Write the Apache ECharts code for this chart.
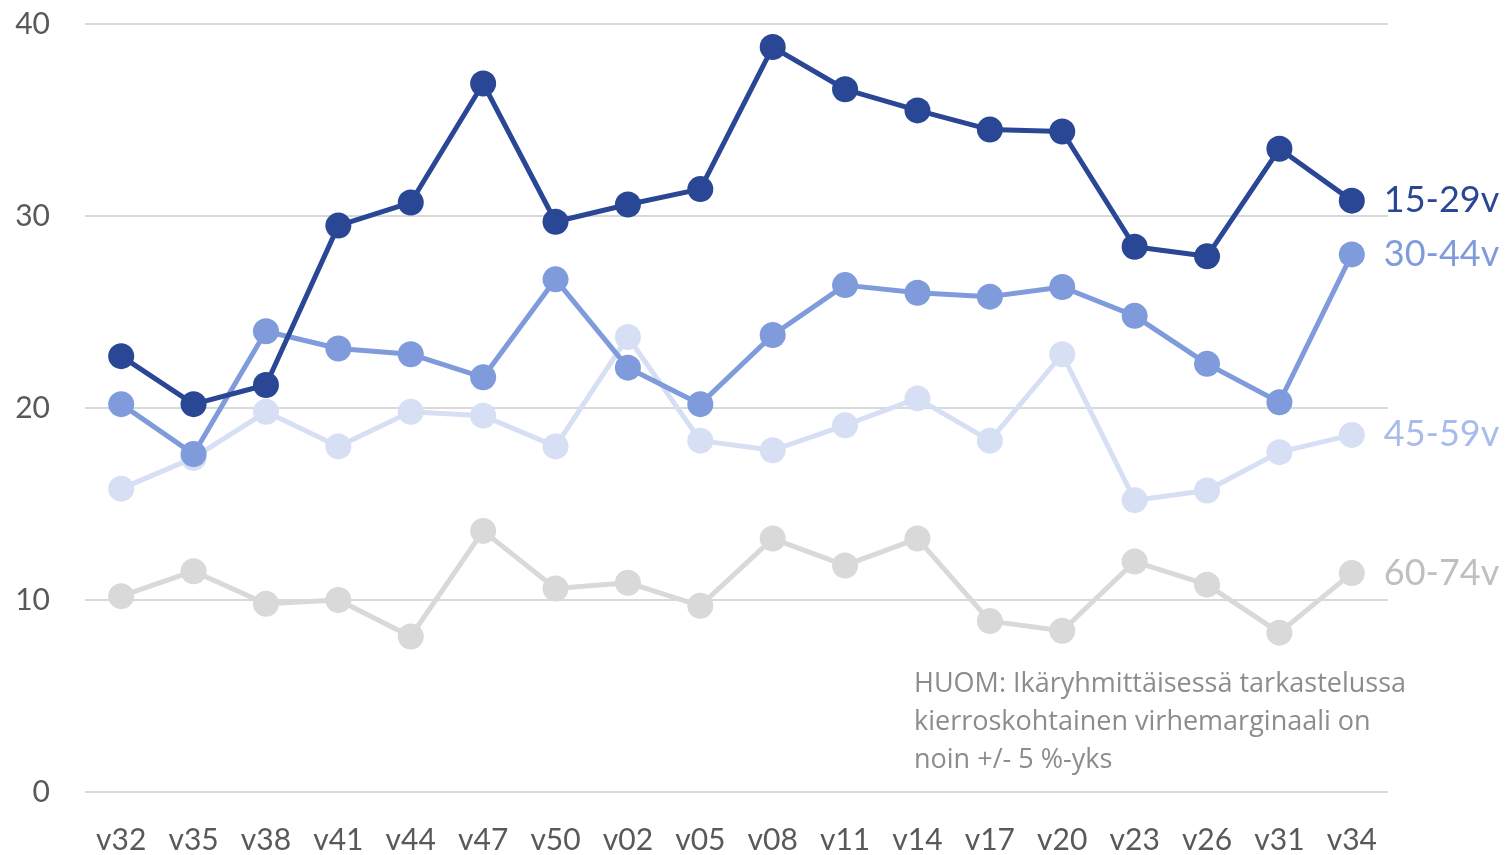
<!DOCTYPE html>
<html>
<head>
<meta charset="utf-8">
<script src="https://cdn.jsdelivr.net/npm/echarts@6/dist/echarts.min.js"></script>
<style>
  html, body { margin: 0; padding: 0; background: #fff; }
  #chart { width: 1506px; height: 855px; }
</style>
</head>
<body>
<div id="chart"></div>
<script>
const weeks = ['v32','v35','v38','v41','v44','v47','v50','v02','v05','v08','v11','v14','v17','v20','v23','v26','v31','v34']
const yTicks = [0, 10, 20, 30, 40]

const age15_29 = [22.7, 20.2, 21.2, 29.5, 30.7, 36.9, 29.7, 30.6, 31.4, 38.8, 36.6, 35.5, 34.5, 34.4, 28.4, 27.9, 33.5, 30.8]
const age30_44 = [20.2, 17.6, 24.0, 23.1, 22.8, 21.6, 26.7, 22.1, 20.2, 23.8, 26.4, 26.0, 25.8, 26.3, 24.8, 22.3, 20.3, 28.0]
const age45_59 = [15.8, 17.4, 19.8, 18.0, 19.8, 19.6, 18.0, 23.7, 18.3, 17.8, 19.1, 20.5, 18.3, 22.8, 15.2, 15.7, 17.7, 18.6]
const age60_74 = [10.2, 11.5, 9.8, 10.0, 8.1, 13.6, 10.6, 10.9, 9.7, 13.2, 11.8, 13.2, 8.9, 8.4, 12.0, 10.8, 8.3, 11.4]

const note = 'HUOM: Ikäryhmittäisessä tarkastelussa\nkierroskohtainen virhemarginaali on\nnoin +/- 5 %-yks'

const font = 'Lato, "Open Sans", sans-serif'

function makeSeries(name, data, lineColor, labelColor) {
  return {
    name: name,
    type: 'line',
    data: data,
    symbol: 'circle',
    symbolSize: 26,
    lineStyle: { width: 5, color: lineColor },
    itemStyle: { color: lineColor },
    endLabel: {
      show: true,
      formatter: name,
      color: labelColor,
      fontSize: 36,
      fontFamily: font,
      distance: 32
    },
    animation: false
  }
}

const chart = echarts.init(document.getElementById('chart'))
chart.setOption({
  animation: false,
  grid: { left: 85, right: 118, top: 24, bottom: 62 },
  xAxis: {
    type: 'category',
    data: weeks,
    boundaryGap: true,
    axisLine: { show: false },
    axisTick: { show: false },
    axisLabel: { color: '#595959', fontSize: 30, fontFamily: font, margin: 33, interval: 0 }
  },
  yAxis: {
    type: 'value',
    min: yTicks[0],
    max: yTicks[yTicks.length - 1],
    interval: 10,
    axisLine: { show: false },
    axisTick: { show: false },
    axisLabel: { color: '#595959', fontSize: 30, fontFamily: font, margin: 35 },
    splitLine: { lineStyle: { color: '#d9d9d9', width: 2 } }
  },
  graphic: [{
    type: 'text',
    left: 914,
    top: 665,
    style: {
      text: note,
      fill: '#8c8c8c',
      fontSize: 27,
      fontFamily: '"Open Sans", sans-serif',
      lineHeight: 38
    }
  }],
  series: [
    makeSeries('60-74v', age60_74, '#d9d9d9', '#bfbfbf'),
    makeSeries('45-59v', age45_59, '#d6dff4', '#a9bbea'),
    makeSeries('30-44v', age30_44, '#7f9bdc', '#7f9bdc'),
    makeSeries('15-29v', age15_29, '#2a4795', '#2a4795')
  ]
})
</script>
</body>
</html>
